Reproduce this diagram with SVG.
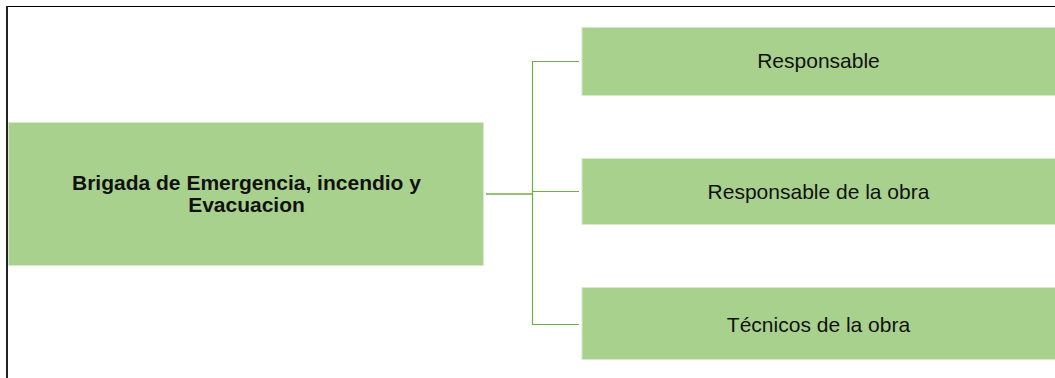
<svg xmlns="http://www.w3.org/2000/svg" width="1055" height="378" viewBox="0 0 1055 378">
<style>
.box{fill:#a9d18e;stroke:#d6e9c8;stroke-width:1}
.lbl{font-family:"Liberation Sans",Arial,sans-serif;font-size:21px;fill:#111;text-anchor:middle}
.bold{font-weight:bold}
.con{stroke:#70ad47;fill:none}
</style>
<rect x="0" y="0" width="1055" height="378" fill="#ffffff"/>
<g id="frame">
<line x1="7" y1="6.5" x2="1055" y2="6.5" stroke="#000" stroke-width="1"/>
<line x1="7" y1="6" x2="7" y2="378" stroke="#222" stroke-width="2"/>
</g>
<g id="connectors">
<line class="con" x1="486" y1="194" x2="532.5" y2="194" stroke-width="1.6"/>
<line class="con" x1="532.5" y1="61.5" x2="532.5" y2="324.5" stroke-width="1.2"/>
<line class="con" x1="532" y1="61.5" x2="579" y2="61.5" stroke-width="1.2"/>
<line class="con" x1="532" y1="191.5" x2="579" y2="191.5" stroke-width="1.2"/>
<line class="con" x1="532" y1="324.5" x2="579" y2="324.5" stroke-width="1.2"/>
</g>
<g id="node-main">
<rect class="box" x="8.5" y="122.5" width="475" height="143"/>
<text class="lbl bold" x="246.5" y="190">Brigada de Emergencia, incendio y</text>
<text class="lbl bold" x="246.5" y="211.5">Evacuacion</text>
</g>
<g id="node-responsable">
<rect class="box" x="582" y="27.5" width="474" height="68"/>
<text class="lbl" x="818.5" y="68">Responsable</text>
</g>
<g id="node-responsable-obra">
<rect class="box" x="582" y="158.5" width="474" height="66"/>
<text class="lbl" x="818.5" y="198.5">Responsable de la obra</text>
</g>
<g id="node-tecnicos">
<rect class="box" x="582" y="287.5" width="474" height="72"/>
<text class="lbl" x="818.5" y="331.5">Técnicos de la obra</text>
</g>
</svg>
